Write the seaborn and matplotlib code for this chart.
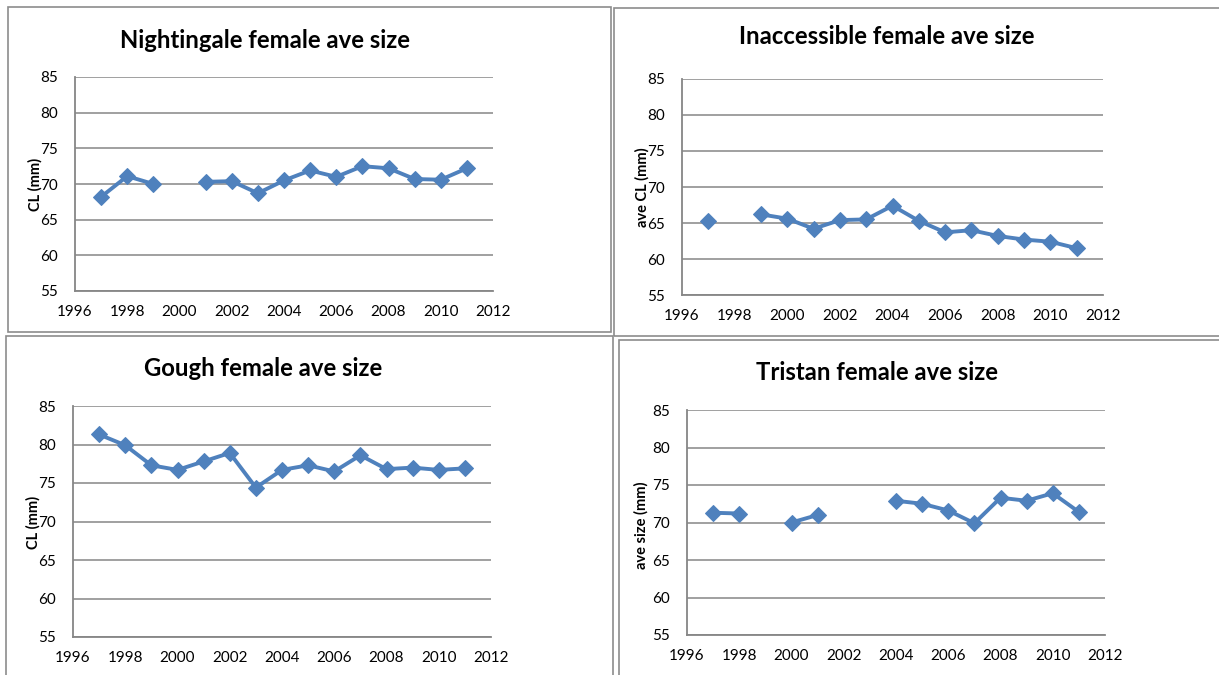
import numpy as np
import pandas as pd
import matplotlib
matplotlib.use('Agg')
import matplotlib.pyplot as plt
import seaborn as sns
from matplotlib.patches import Rectangle

# datos (None = año sin dato)
years = list(range(1997, 2012))
nightingale = [68.2, 71.1, 70.0, None, 70.3, 70.4, 68.7, 70.5, 71.9, 71.0, 72.5, 72.2, 70.7, 70.6, 72.2]
inaccessible = [65.3, None, 66.2, 65.6, 64.2, 65.4, 65.5, 67.4, 65.3, 63.7, 64.0, 63.2, 62.7, 62.4, 61.5]
gough = [81.3, 79.9, 77.3, 76.7, 77.8, 78.9, 74.4, 76.7, 77.3, 76.5, 78.6, 76.8, 77.0, 76.7, 76.9]
tristan = [71.3, 71.2, None, 70.0, 71.0, None, None, 72.9, 72.5, 71.6, 69.9, 73.3, 72.9, 73.9, 71.4]

titles = ['Nightingale female ave size', 'Inaccessible female ave size',
          'Gough female ave size', 'Tristan female ave size']
ylabels = ['CL (mm)', 'ave CL (mm)', 'CL (mm)', 'ave size (mm)']
xticks = list(range(1996, 2013, 2))
yticks = list(range(55, 90, 5))

sns.set_style('white')
plt.rcParams['font.family'] = ['Lato', 'DejaVu Sans']

W, H = 1219, 675
fig = plt.figure(figsize=(W / 100, H / 100), dpi=100)

def fx(px):
    return px / W

def fy(py):
    return 1 - py / H

# cajas de cada grafico (px: izq, arriba, der, abajo)
boxes = [(8, 7, 611, 332), (614, 8, 1230, 336), (6, 336, 613, 690), (619, 340, 1230, 690)]
for l, t, r, b in boxes:
    fig.patches.append(Rectangle((fx(l), fy(b)), fx(r - l), (b - t) / H, transform=fig.transFigure,
                                 fill=False, edgecolor='#8c8c8c', lw=1.2, zorder=0))

# ejes (px: izq, arriba, der, abajo)
axes_px = [(75, 77, 493, 291), (682, 79, 1103, 295), (73, 406, 491, 637), (687, 410, 1105, 635)]
title_pos = [(265, 40), (887, 36), (263, 368), (877, 372)]
ylabel_pos = [(35, 184), (642, 187), (33, 522), (641, 525)]

series = [nightingale, inaccessible, gough, tristan]
color = '#4F81BD'
grey = '#868686'

for i, vals in enumerate(series):
    l, t, r, b = axes_px[i]
    ax = fig.add_axes([fx(l), fy(b), fx(r - l), (b - t) / H])

    df = pd.DataFrame({'year': years, 'cl': vals}, dtype=float)
    # tramos separados donde falta el dato
    df['seg'] = df['cl'].isna().cumsum()
    df = df.dropna()

    sns.lineplot(data=df, x='year', y='cl', units='seg', estimator=None, ax=ax,
                 color=color, lw=2.8, marker='D', markersize=8, markeredgecolor=color)

    ax.set_xlim(1996, 2012)
    ax.set_ylim(55, 85)
    ax.set_xticks(xticks)
    ax.set_yticks(yticks)
    ax.set_xlabel('')
    ax.set_ylabel('')
    ax.grid(axis='y', color=grey, lw=1.1)
    ax.grid(axis='x', visible=False)
    for s in ['top', 'right']:
        ax.spines[s].set_visible(False)
    for s in ['left', 'bottom']:
        ax.spines[s].set_color(grey)
        ax.spines[s].set_linewidth(1.3)
    ax.tick_params(axis='x', direction='in', length=4, color=grey, width=1, pad=10,
                   labelsize=11, labelcolor='black')
    ax.tick_params(axis='y', length=0, pad=12, labelsize=11, labelcolor='black')
    ax.set_axisbelow(True)

    fig.text(fx(title_pos[i][0]), fy(title_pos[i][1]), titles[i], ha='center', va='center',
             fontsize=17.2, fontweight='bold', color='black')
    fig.text(fx(ylabel_pos[i][0]), fy(ylabel_pos[i][1]), ylabels[i], ha='center', va='center',
             rotation=90, fontsize=10.5, fontweight='bold', color='black')

fig.savefig('out.png', dpi=100)
